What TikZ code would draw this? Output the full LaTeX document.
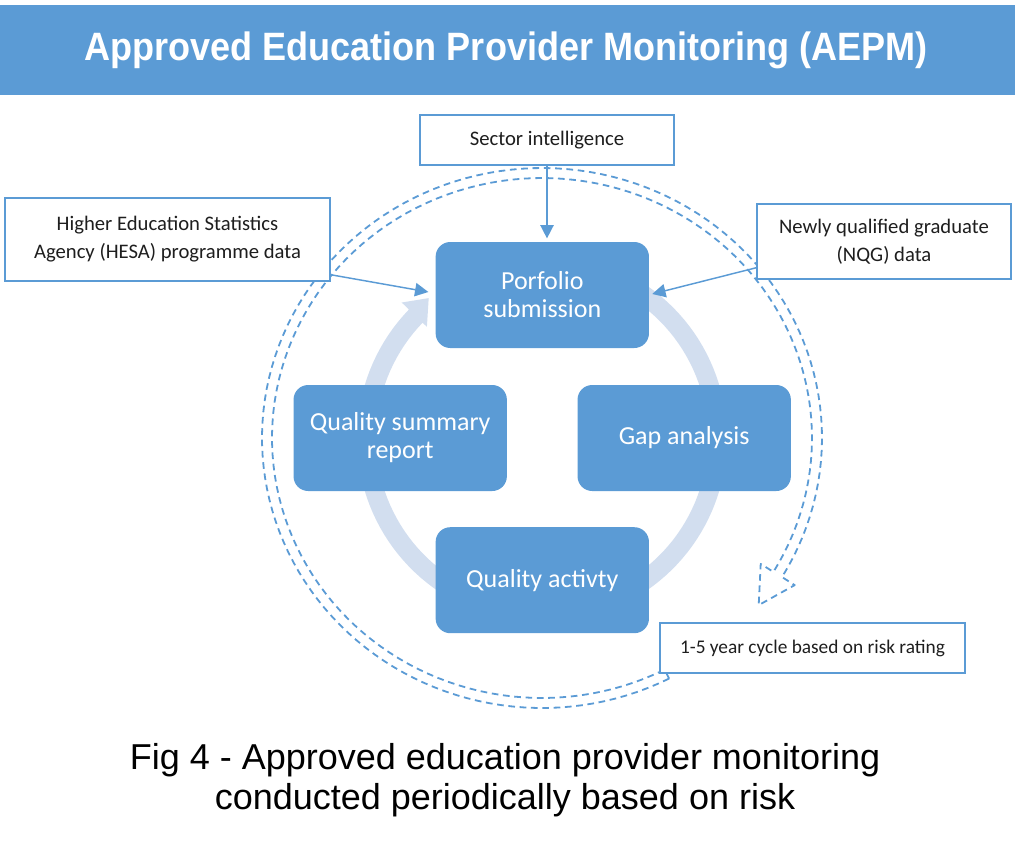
\documentclass[tikz,border=0pt]{standalone}
\usepackage{fontspec}
\setmainfont{Carlito}
\newfontfamily\arialfont{Liberation Sans}
\usetikzlibrary{arrows.meta,calc}
\definecolor{aeblue}{RGB}{91,155,213}
\definecolor{ringcol}{RGB}{210,222,239}
\definecolor{txtdark}{RGB}{30,30,30}
\begin{document}
\begin{tikzpicture}[x=0.75pt,y=-0.75pt,
  inbox/.style={draw=aeblue, line width=1.1pt, fill=white, align=center, inner sep=0pt, text=txtdark, font=\fontsize{15.5}{21}\selectfont},
  stage/.style={fill=aeblue, rounded corners=11pt, minimum width=160pt, minimum height=79.5pt, align=center, text=white, font=\fontsize{19.5}{21}\selectfont, inner sep=0pt},
  conn/.style={draw=aeblue, line width=1.1pt, -{Triangle[length=10pt,width=10pt]}},
  dashline/.style={draw=aeblue, line width=1.35pt, dash pattern=on 5pt off 3.5pt, line join=round},
  header/.style={fill=aeblue, minimum width=763.5pt, minimum height=67.5pt, inner sep=0pt, text=white, font=\arialfont\bfseries\fontsize{26.5}{30}\selectfont},
  caption/.style={align=center, font=\arialfont\fontsize{27}{30}\selectfont, text=black}
]
\useasboundingbox (0,0) rectangle (1018,843);

% header
\node[header] (title) at (506,50) {\scalebox{1.02}[1.12]{Approved Education Provider Monitoring (AEPM)}};

% dashed cycle arrow (outline)
\draw[dashline] plot[domain=63:391, samples=140] ({542+280*cos(\x)},{438+270*sin(\x)})
  -- (794.7,585.1) -- (758.7,605.1) -- (760.7,563.9)
  -- plot[domain=391:63, samples=140] ({542+270*cos(\x)},{438+260*sin(\x)}) -- cycle;

% light ring arrow
\fill[ringcol] plot[domain=285:584, samples=120] ({542+185*cos(\x)},{438+185*sin(\x)})
  -- (401.7,302.5) -- (428.7,298.1) -- (426.9,326.8)
  -- plot[domain=584:285, samples=120] ({542+166*cos(\x)},{438+166*sin(\x)}) -- cycle;

% stages
\node[stage] (port) at (542.3,295) {Porfolio\\submission};
\node[stage] (qsr) at (400.2,438) {Quality summary\\report};
\node[stage] (gap) at (684.2,438) {Gap analysis};
\node[stage] (act) at (542.3,580.2) {Quality activty};

% input boxes
\node[inbox, minimum width=190.5pt, minimum height=37.5pt] (sector) at (547,140) {Sector intelligence};
\node[inbox, minimum width=243.75pt, minimum height=62.25pt] (hesa) at (167.5,239.5) {Higher Education Statistics\\Agency (HESA) programme data};
\node[inbox, minimum width=190.5pt, minimum height=56.25pt] (nqg) at (884,241.5) {Newly qualified graduate\\(NQG) data};
\node[inbox, minimum width=228.75pt, minimum height=37.5pt, font=\fontsize{14.5}{18}\selectfont] (cyc) at (812.5,648) {1-5 year cycle based on risk rating};

% connectors
\draw[conn, shorten >=2.5pt] (sector.south) -- (sector.south |- port.north);
\draw[conn] ($(hesa.south east)+(0,-7)$) -- ($(port.west)+(-7,-3)$);
\draw[conn] ($(nqg.south west)+(0,-12)$) -- ($(port.east)+(3,-1)$);

% caption
\node[caption] (cap) at (505,780) {Fig 4 - Approved education provider monitoring\\conducted periodically based on risk};
\end{tikzpicture}
\end{document}
